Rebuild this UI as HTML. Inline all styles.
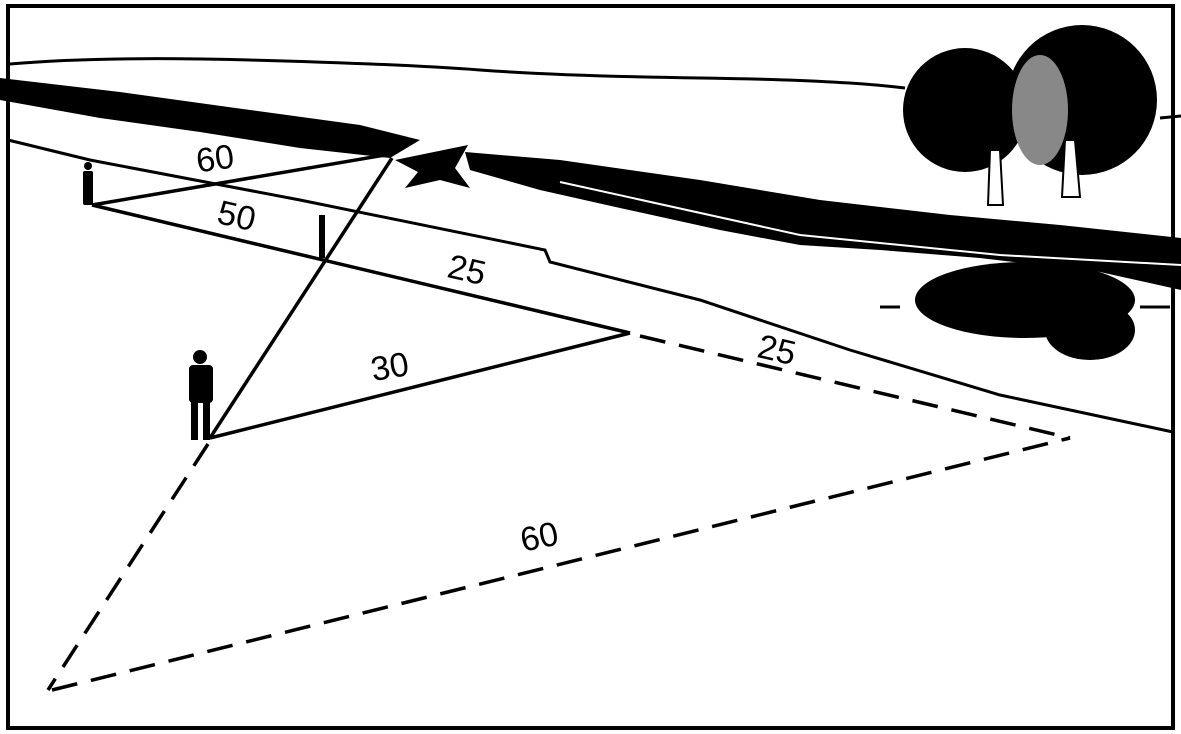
<!DOCTYPE html>
<html><head><meta charset="utf-8"><style>
html,body{margin:0;padding:0;background:#fff;}
svg{display:block;}
text{font-family:"Liberation Sans",sans-serif;font-size:34px;fill:#000;}
</style></head><body>
<svg width="1181" height="734" viewBox="0 0 1181 734" xmlns="http://www.w3.org/2000/svg">
<rect x="0" y="0" width="1181" height="734" fill="#fff"/>
<rect x="8" y="6" width="1165" height="722" fill="none" stroke="#000" stroke-width="4"/>
<!-- far bank -->
<path d="M10 64 Q100 56 250 60 T480 70 T700 78 T905 88" fill="none" stroke="#000" stroke-width="3"/>
<path d="M1160 118 L1181 116" stroke="#000" stroke-width="3"/>
<!-- river dark band -->
<path d="M0 78 L120 92 L250 110 L360 125 L420 140 L390 158 L300 148 L200 132 L100 118 L0 100 Z" fill="#000"/>
<path d="M465 152 L560 160 L700 180 L820 200 L950 215 L1060 225 L1181 238 L1181 290 L1100 272 L980 258 L880 250 L800 245 L720 230 L620 208 L540 190 L470 170 Z" fill="#000"/>
<path d="M560 182 L800 235 L1000 255 L1181 265" stroke="#fff" stroke-width="2" fill="none"/>
<!-- boat -->
<path d="M395 160 L468 145 L455 168 L470 188 L440 180 L405 188 L418 172 Z" fill="#000"/>
<!-- reflection -->
<ellipse cx="1025" cy="300" rx="110" ry="38" fill="#000"/>
<ellipse cx="1090" cy="330" rx="45" ry="30" fill="#000"/>
<path d="M880 307 L900 307 M1140 307 L1170 307" stroke="#000" stroke-width="3"/>
<!-- trees -->
<circle cx="965" cy="110" r="62" fill="#000"/>
<circle cx="1082" cy="100" r="75" fill="#000"/>
<ellipse cx="1040" cy="110" rx="28" ry="55" fill="#888"/>
<path d="M990 150 L988 205 L1003 205 L1000 150 Z M1065 140 L1062 197 L1080 197 L1075 140 Z" fill="#fff" stroke="#000" stroke-width="2"/>
<!-- near bank -->
<path d="M8 140 L90 160 L300 200 L545 250 L550 262 L700 300 L850 350 L1000 395 L1173 432" fill="none" stroke="#000" stroke-width="3"/>
<!-- solid lines -->
<g stroke="#000" stroke-width="3.5" fill="none">
<line x1="92" y1="205" x2="385" y2="155"/>
<line x1="92" y1="205" x2="630" y2="333"/>
<line x1="210" y1="438" x2="392" y2="158"/>
<line x1="210" y1="438" x2="630" y2="333"/>
<line x1="322" y1="215" x2="322" y2="258" stroke-width="6"/>
</g>
<g stroke="#000" stroke-width="3.5" fill="none" stroke-dasharray="26 14">
<line x1="640" y1="336" x2="1070" y2="438"/>
<line x1="208" y1="444" x2="48" y2="690"/>
<line x1="52" y1="690" x2="1070" y2="438"/>
</g>
<!-- people -->
<g fill="#000">
<circle cx="88" cy="166" r="4"/><rect x="83" y="171" width="10" height="34" rx="2"/>
<circle cx="200" cy="357" r="7"/><rect x="189" y="365" width="24" height="38" rx="4"/>
<rect x="191" y="400" width="7" height="40"/><rect x="203" y="400" width="7" height="40"/>
</g>
<!-- labels -->
<text x="196" y="170" transform="rotate(-8 215 158)">60</text>
<text x="218" y="228" transform="rotate(13 240 215)">50</text>
<text x="448" y="282" transform="rotate(13 470 270)">25</text>
<text x="370" y="378" transform="rotate(-10 390 362)">30</text>
<text x="758" y="362" transform="rotate(13 780 350)">25</text>
<text x="520" y="548" transform="rotate(-12 540 535)">60</text>
</svg>
</body></html>
